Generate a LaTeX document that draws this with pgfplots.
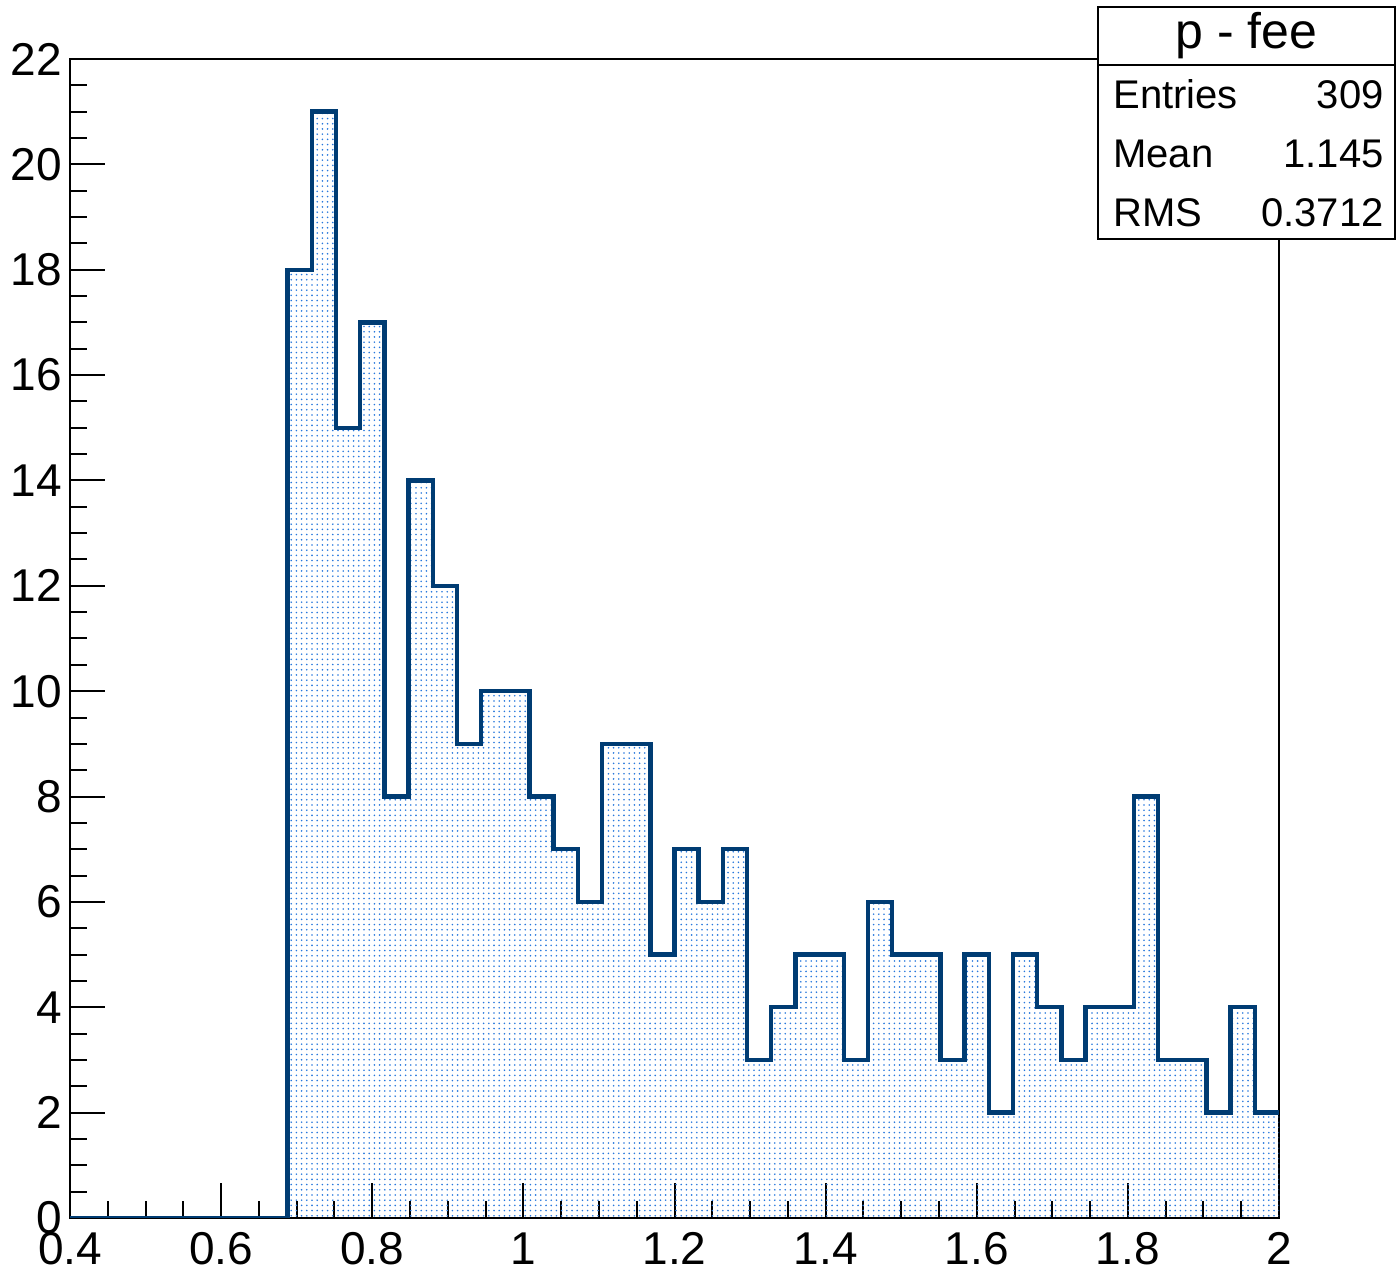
\documentclass[border=0pt]{standalone}
\usepackage{pgfplots}
\pgfplotsset{compat=1.18}
\usepackage{pgfplotstable}
\usepackage{fontspec}
\setmainfont{Liberation Sans}
\usetikzlibrary{patterns.meta}
\definecolor{histline}{RGB}{0,60,115}
\definecolor{histdot}{RGB}{40,120,220}

\pgfplotstableread{
x y
0.400 0
0.432 0
0.464 0
0.496 0
0.528 0
0.560 0
0.592 0
0.624 0
0.656 0
0.688 18
0.720 21
0.752 15
0.784 17
0.816 8
0.848 14
0.880 12
0.912 9
0.944 10
0.976 10
1.008 8
1.040 7
1.072 6
1.104 9
1.136 9
1.168 5
1.200 7
1.232 6
1.264 7
1.296 3
1.328 4
1.360 5
1.392 5
1.424 3
1.456 6
1.488 5
1.520 5
1.552 3
1.584 5
1.616 2
1.648 5
1.680 4
1.712 3
1.744 4
1.776 4
1.808 8
1.840 3
1.872 3
1.904 2
1.936 4
1.968 2
2.000 2
}\histdata

\begin{document}
\begin{tikzpicture}
\useasboundingbox (-35pt,-27.5pt) rectangle (663.5pt,609pt);
\begin{axis}[
  at={(0,0)}, anchor=south west,
  scale only axis,
  width=604.5pt, height=579.5pt,
  xmin=0.4, xmax=2, ymin=0, ymax=22,
  xtick={0.4,0.6,...,2.01},
  ytick={0,2,...,22},
  minor tick num=3,
  xtick pos=bottom, ytick pos=left,
  tick align=inside,
  major tick length=17.5pt,
  minor tick length=8.5pt,
  every tick/.style={black, line width=1pt},
  axis line style={line width=1pt},
  /pgf/number format/assume math mode=true,
  tick label style={font=\fontsize{23}{27}\selectfont},
  xticklabel style={anchor=north, inner sep=0pt, yshift=-7pt},
  yticklabel style={anchor=east, inner sep=0pt, xshift=-4pt},
  xticklabel={\pgfmathprintnumber[fixed]{\tick}},
]
\addplot[const plot, draw=none, pattern={Dots[distance=2.6pt, radius=0.45pt]}, pattern color=histdot] table {\histdata} \closedcycle;
\addplot[const plot, color=histline, line width=2.2pt, line join=miter] table {\histdata};
\end{axis}
% statistics box
\draw[line width=1pt, fill=white] (514pt,489.5pt) rectangle (662.5pt,605.5pt);
\draw[line width=1pt] (514pt,576.5pt) -- (662.5pt,576.5pt);
\node[anchor=base, inner sep=0pt, font=\fontsize{25}{30}\selectfont] at (588.25pt,584.5pt) {p - fee};
\begin{scope}[every node/.style={inner sep=0pt, font=\fontsize{20}{24}\selectfont}]
\node[anchor=base west] at (521.5pt,554.5pt) {Entries};
\node[anchor=base east] at (657pt,554.5pt) {309};
\node[anchor=base west] at (521.5pt,525pt) {Mean};
\node[anchor=base east] at (657pt,525pt) {1.145};
\node[anchor=base west] at (521.5pt,495.5pt) {RMS};
\node[anchor=base east] at (657pt,495.5pt) {0.3712};
\end{scope}
\end{tikzpicture}
\end{document}
